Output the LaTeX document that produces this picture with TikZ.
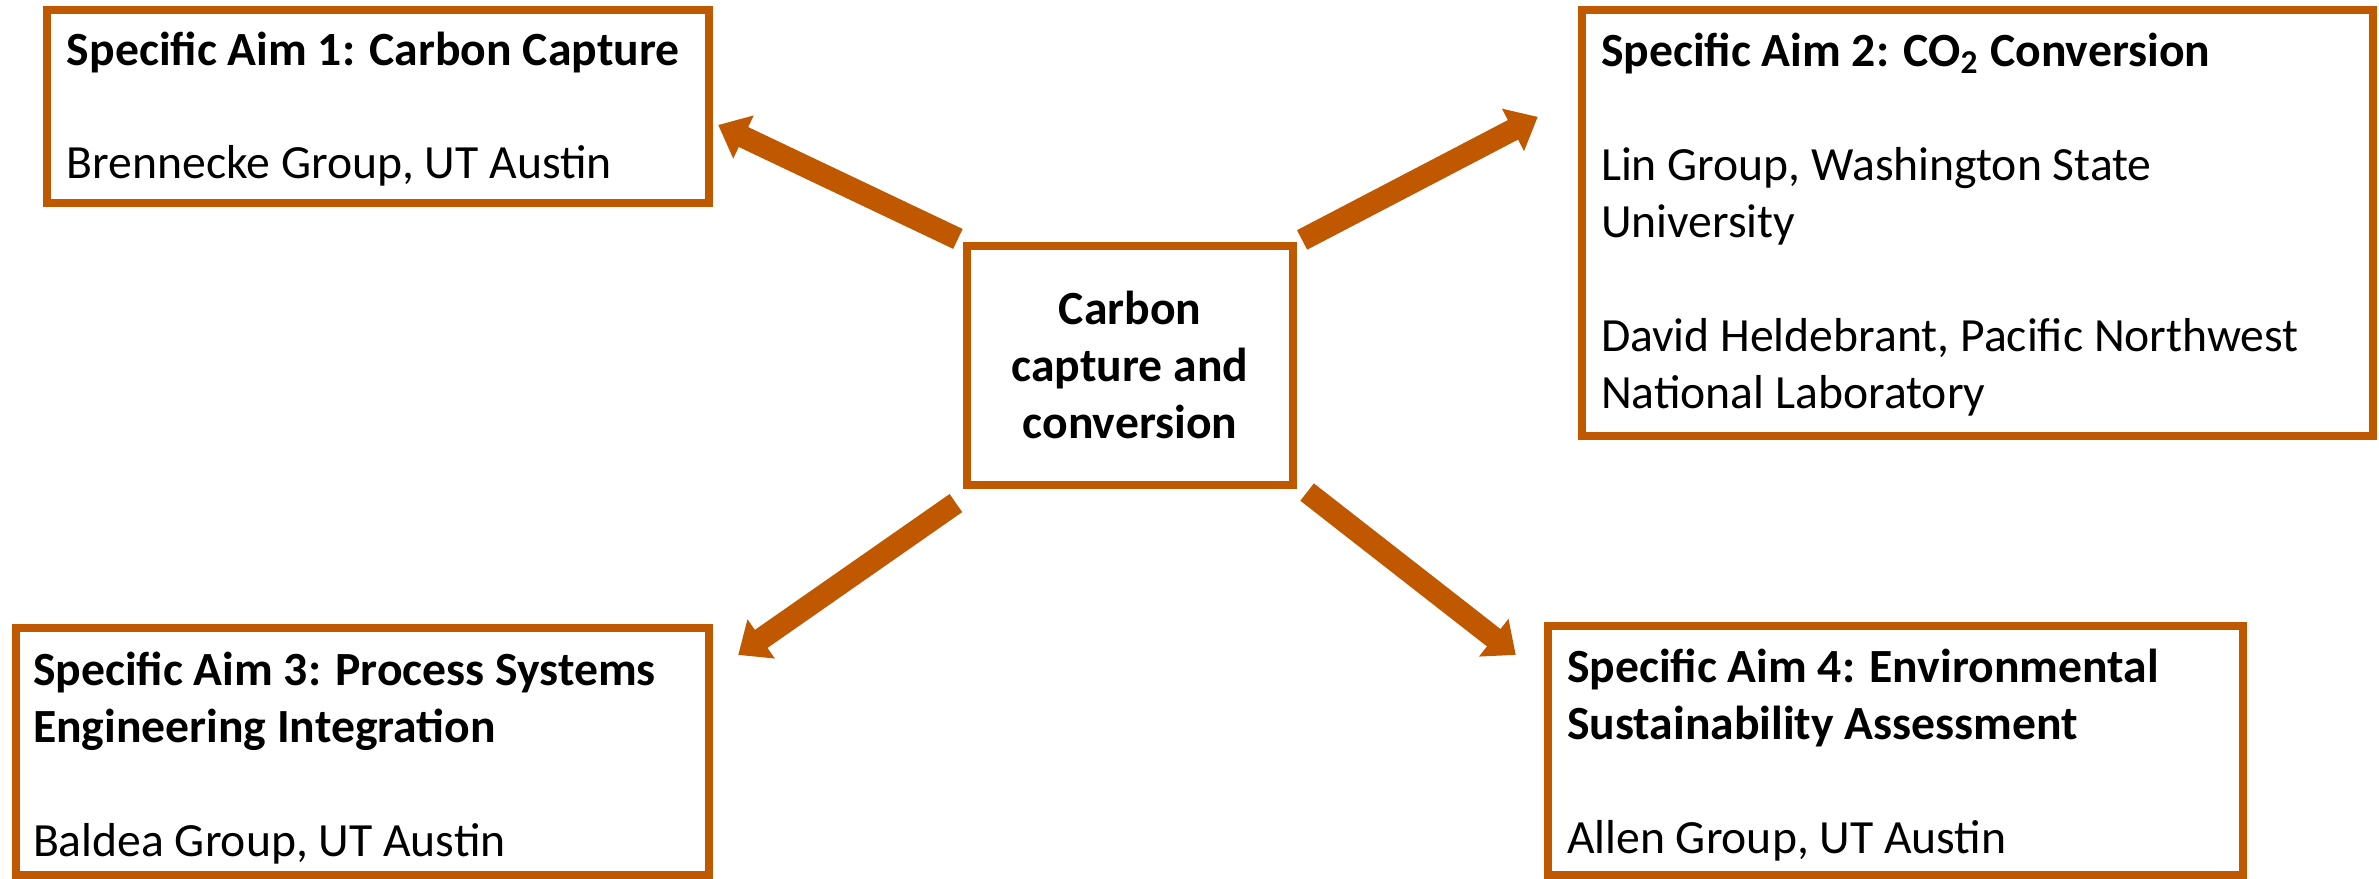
\documentclass[tikz,border=0pt]{standalone}
\usepackage{fontspec}
\setmainfont{Carlito}
\usetikzlibrary{arrows.meta}
\definecolor{burnt}{RGB}{192,88,0}
\begin{document}
\begin{tikzpicture}[x=0.01cm,y=-0.01cm,
  aimbox/.style={draw=burnt,line width=0.08cm,fill=white,inner sep=0pt,outer sep=0pt},
  txt/.style={inner sep=0pt,outer sep=0pt,anchor=base west,align=left,font=\fontsize{13.55pt}{16.2pt}\selectfont},
  bigarrow/.style={draw=burnt,line width=0.22cm,-{Triangle[length=0.28cm,width=0.46cm]}}]
\useasboundingbox[fill=white] (0,0) rectangle (2379,879);
% boxes
\node[aimbox,minimum width=6.62cm,minimum height=1.93cm] (box1) at (378,106.5) {};
\node[aimbox,minimum width=7.91cm,minimum height=4.26cm] (box2) at (1977.5,223) {};
\node[aimbox,minimum width=3.26cm,minimum height=2.39cm] (ctr) at (1130,365.5) {};
\node[aimbox,minimum width=6.93cm,minimum height=2.47cm] (box3) at (362.5,751.5) {};
\node[aimbox,minimum width=6.95cm,minimum height=2.49cm] (box4) at (1895.5,750.5) {};
% texts (anchored at the baseline of the last line)
\node[txt] (t1) at (67,179) {\textbf{Specific Aim 1: Carbon Capture}\\[16.2pt]Brennecke Group, UT Austin};
\node[txt] (t2) at (1601,408) {\textbf{Specific Aim 2: CO\textsubscript{2} Conversion}\\[16.2pt]Lin Group, Washington State\\University\\[16.2pt]David Heldebrant, Pacific Northwest\\National Laboratory};
\node[txt,anchor=base,align=center] (tc) at (1130,438) {\textbf{Carbon}\\\textbf{capture and}\\\textbf{conversion}};
\node[txt] (t3) at (33,856) {\textbf{Specific Aim 3: Process Systems}\\\textbf{Engineering Integration}\\[16.2pt]Baldea Group, UT Austin};
\node[txt] (t4) at (1567,853) {\textbf{Specific Aim 4: Environmental}\\\textbf{Sustainability Assessment}\\[16.2pt]Allen Group, UT Austin};
% arrows
\draw[bigarrow] ([shift={(-9,-7)}]ctr.north west) -- ([shift={(9,18.5)}]box1.east);
\draw[bigarrow] ([shift={(9,-6)}]ctr.north east) -- ([shift={(-44,107)}]box2.north west);
\draw[bigarrow] ([shift={(-11,18)}]ctr.south west) -- ([shift={(29,27)}]box3.north east);
\draw[bigarrow] ([shift={(14,7)}]ctr.south east) -- ([shift={(-32,29)}]box4.north west);
\end{tikzpicture}
\end{document}
